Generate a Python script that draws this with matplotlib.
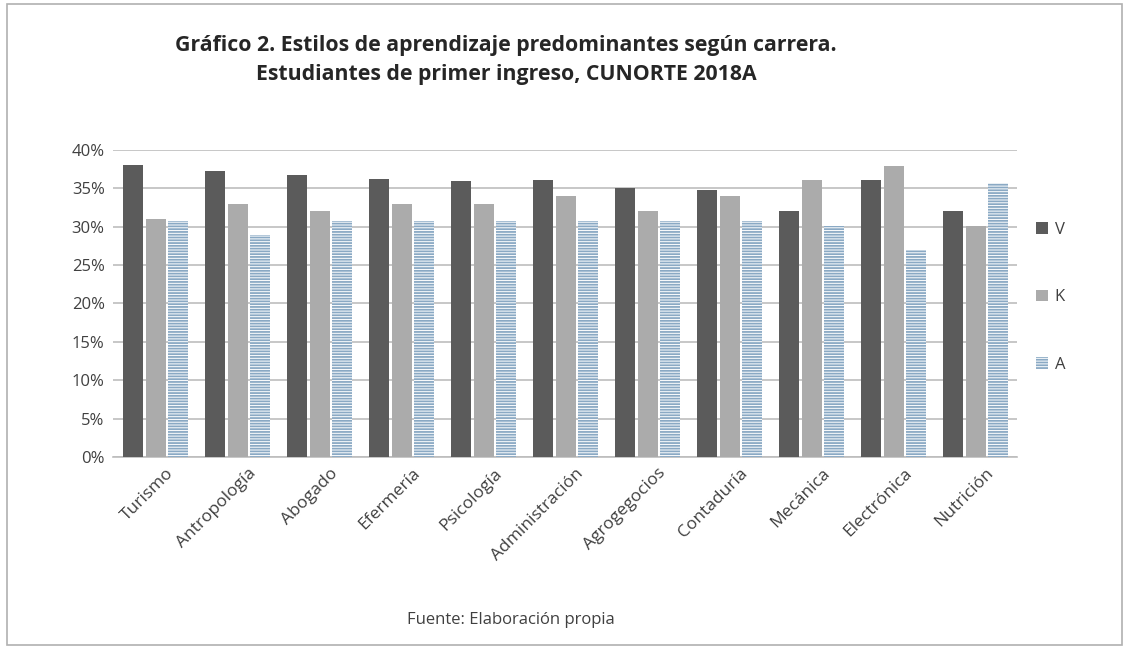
import matplotlib
matplotlib.use("Agg")
import matplotlib.pyplot as plt
import numpy as np
from matplotlib.patches import Rectangle, Patch
from matplotlib.ticker import PercentFormatter

plt.rcParams['font.family'] = ['Open Sans', 'DejaVu Sans']
plt.rcParams['hatch.linewidth'] = 1.3

categories = ['Turismo', 'Antropología', 'Abogado', 'Efermería', 'Psicología',
              'Administración', 'Agrogegocios', 'Contaduría', 'Mecánica',
              'Electrónica', 'Nutrición']
V = [38.1, 37.2, 36.7, 36.2, 35.9, 36.1, 35.1, 34.8, 32.0, 36.1, 32.0]
K = [31.0, 32.9, 32.0, 32.9, 32.9, 34.0, 32.0, 34.0, 36.1, 37.9, 30.1]
A = [30.7, 28.9, 30.7, 30.7, 30.7, 30.7, 30.7, 30.7, 30.1, 27.0, 35.7]
series_names = ['V', 'K', 'A']
yticks = [0, 5, 10, 15, 20, 25, 30, 35, 40]

fig = plt.figure(figsize=(11.27, 6.48), dpi=100)
ax = fig.add_axes([0.1003, 0.2948, 0.802, 0.4737])

x = np.arange(len(categories))
w = 0.245
off = 0.275
ax.bar(x - off, V, w, color='#5b5b5b', label='V', zorder=3)
ax.bar(x, K, w, color='#ababab', label='K', zorder=3)
ax.bar(x + off, A, w, facecolor='white', edgecolor='#8aa9c4', hatch='------',
       linewidth=0, label='A', zorder=3)

ax.set_xlim(-0.52, 10.5)
ax.set_ylim(0, 40)
ax.set_yticks(yticks)
ax.yaxis.set_major_formatter(PercentFormatter(decimals=0))
ax.grid(axis='y', color='#bdbdbd', linewidth=1.2, zorder=0)
ax.set_axisbelow(True)
for s in ['left', 'right', 'top']:
    ax.spines[s].set_visible(False)
ax.spines['bottom'].set_color('#bdbdbd')
ax.spines['bottom'].set_linewidth(1.2)
ax.tick_params(axis='y', length=0, labelsize=12, colors='#404040', pad=6)
ax.tick_params(axis='x', length=0, labelsize=12.5, colors='#404040', pad=6)
ax.set_xticks(x + 0.12)
ax.set_xticklabels(categories, rotation=45, ha='right', rotation_mode='anchor')

handles = [Patch(facecolor='#5b5b5b'), Patch(facecolor='#ababab'),
           Patch(facecolor='white', edgecolor='#8aa9c4', hatch='------', linewidth=0)]
leg = ax.legend(handles, series_names, loc='center left', bbox_to_anchor=(1.005, 0.52),
                frameon=False, fontsize=12, labelspacing=3.1, handlelength=0.7,
                handleheight=0.7, handletextpad=0.4)
for t in leg.get_texts():
    t.set_color('#404040')

fig.text(0.449, 0.908, 'Gráfico 2. Estilos de aprendizaje predominantes según carrera.\n'
         'Estudiantes de primer ingreso, CUNORTE 2018A',
         ha='center', va='center', fontsize=15.3, fontweight='bold', color='#262626',
         linespacing=1.5)
fig.text(0.453, 0.043, 'Fuente: Elaboración propia', ha='center', va='center',
         fontsize=12, color='#404040')

fig.patches.append(Rectangle((0.006, 0.004), 0.99, 0.99, transform=fig.transFigure,
                             fill=False, edgecolor='#b0b0b0', linewidth=1.2))

fig.savefig('out.png', dpi=100)
